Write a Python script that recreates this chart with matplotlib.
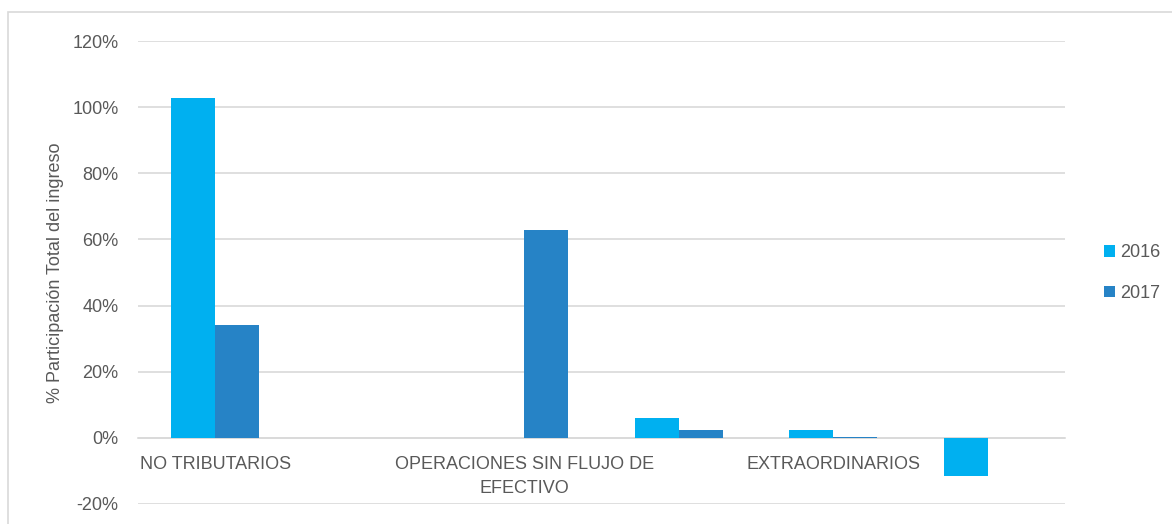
import matplotlib.pyplot as plt
from matplotlib import font_manager
from matplotlib.patches import Rectangle
from matplotlib.ticker import FuncFormatter, MultipleLocator
import numpy as np


# categories (only every other label is shown in the original)
CATEGORIES = ["NO TRIBUTARIOS", "", "OPERACIONES SIN FLUJO DE\nEFECTIVO", "",
              "EXTRAORDINARIOS", ""]
SERIES = ["2016", "2017"]
VALUES_2016 = [102.7, 0.0, 0.0, 6.0, 2.5, -11.5]
VALUES_2017 = [34.2, 0.0, 62.8, 2.4, 0.3, 0.0]

COLORS = ["#00B0F0", "#2683C6"]
TEXT_COLOR = "#595959"
GRID_COLOR = "#D9D9D9"
FS = 13

names = {f.name for f in font_manager.fontManager.ttflist}
FONT = ["Liberation Sans Narrow"] if "Liberation Sans Narrow" in names else ["Liberation Sans"]
plt.rcParams['font.family'] = FONT + ["DejaVu Sans"]
plt.rcParams['font.size'] = FS


def main():
    fig = plt.figure(figsize=(11.72, 5.24), dpi=100)
    ax = fig.add_axes([138 / 1172, 1 - 504 / 524, (1065 - 138) / 1172, (504 - 41) / 524])

    x = np.arange(len(CATEGORIES))
    width = 0.285
    ax.bar(x - width / 2, VALUES_2016, width, color=COLORS[0], label=SERIES[0], zorder=3)
    ax.bar(x + width / 2, VALUES_2017, width, color=COLORS[1], label=SERIES[1], zorder=3)

    ax.set_xlim(-0.5, len(CATEGORIES) - 0.5)
    ax.set_ylim(-20, 120)
    ax.yaxis.set_major_locator(MultipleLocator(20))
    ax.yaxis.set_major_formatter(FuncFormatter(lambda v, p: f"{v:.0f}%"))
    ax.grid(axis='y', color=GRID_COLOR, linewidth=1.2, zorder=0)

    for side in ['top', 'right', 'left']:
        ax.spines[side].set_visible(False)
    ax.spines['bottom'].set_position(('data', 0))
    ax.spines['bottom'].set_color(GRID_COLOR)
    ax.spines['bottom'].set_linewidth(1.2)

    ax.set_xticks(x)
    ax.set_xticklabels(CATEGORIES, color=TEXT_COLOR, fontsize=FS, linespacing=1.55)
    ax.tick_params(axis='x', length=0, pad=13)
    ax.tick_params(axis='y', length=0, pad=14, labelcolor=TEXT_COLOR, labelsize=FS)

    ax.set_ylabel("% Participación Total del ingreso", color=TEXT_COLOR, fontsize=FS, labelpad=6)

    fig.legend(loc='center left', bbox_to_anchor=(1088 / 1172, 1 - 273 / 524),
               frameon=False, fontsize=FS, labelcolor=TEXT_COLOR,
               handlelength=0.6, handleheight=0.6, handletextpad=0.3, labelspacing=1.3)

    # outer chart frame
    fig.patches.append(Rectangle((8 / 1172, -0.1), 1.2, 1 - 12 / 524 + 0.1,
                                 transform=fig.transFigure, fill=False,
                                 edgecolor=GRID_COLOR, linewidth=1.2))

    fig.savefig("out.png", dpi=100)


if __name__ == "__main__":
    main()
